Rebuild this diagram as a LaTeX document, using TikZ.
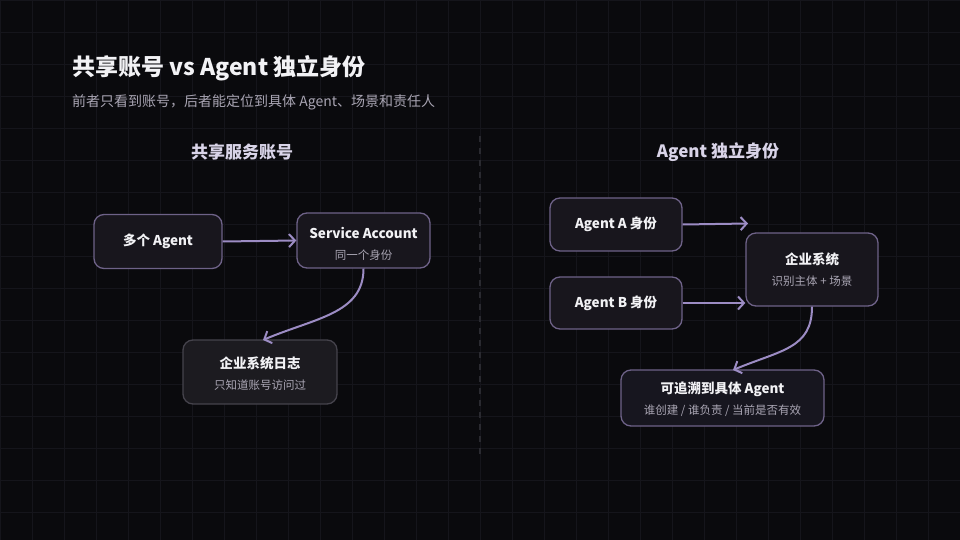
\documentclass[tikz,border=0pt]{standalone}
\usepackage{fontspec}
\setmainfont{Noto Sans CJK SC}
\usetikzlibrary{arrows.meta}
\definecolor{bgc}{HTML}{0A0A0D}
\definecolor{gridc}{HTML}{15151B}
\definecolor{boxfill}{HTML}{18161D}
\definecolor{trfill}{HTML}{17161F}
\definecolor{logfill}{HTML}{1C1B20}
\definecolor{purpborder}{HTML}{6E6288}
\definecolor{grayborder}{HTML}{45434C}
\definecolor{arrowc}{HTML}{9C8CC4}
\definecolor{titlec}{HTML}{F2F2F5}
\definecolor{subc}{HTML}{A9A5B3}
\definecolor{headc}{HTML}{D9D4E8}
\definecolor{divc}{HTML}{2A2A30}
\tikzset{
  box/.style={draw=purpborder, line width=1.3pt, fill=boxfill, rounded corners=10pt,
    align=center, text=titlec, inner sep=0pt},
  logbox/.style={box, draw=grayborder, fill=logfill},
  flow/.style={draw=arrowc, line width=2pt, -{Straight Barb[length=6pt,width=13pt,line width=2pt]}},
  btitle/.style={font=\bfseries\fontsize{13.5}{17}\selectfont},
  headtxt/.style={font=\bfseries\fontsize{17}{20}\selectfont, text=headc, inner sep=0pt},
}
\newcommand{\bsub}[1]{\\[4pt]{\mdseries\fontsize{11.5}{14}\selectfont\color{subc}#1}}
\newcommand{\tstrut}[1]{\rule{0pt}{#1}}
\begin{document}
\begin{tikzpicture}[x=1pt,y=-1pt]
\fill[bgc] (0,0) rectangle (960,540);
\useasboundingbox (0,0) rectangle (960,540);
\foreach \i in {0,32,...,960} \draw[gridc, line width=0.6pt] (\i,0) -- (\i,540);
\foreach \j in {0,32,...,540} \draw[gridc, line width=0.6pt] (0,\j) -- (960,\j);

\node[anchor=west, inner sep=0pt, text=titlec, font=\bfseries\fontsize{23}{26}\selectfont] (title) at (72,68) {共享账号 vs Agent 独立身份};
\node[anchor=west, inner sep=0pt, text=subc, font=\fontsize{14}{17}\selectfont] (subtitle) at (72,102) {前者只看到账号，后者能定位到具体 Agent、场景和责任人};

\draw[divc, line width=1.5pt, dash pattern=on 6pt off 6pt] (480,136) coordinate (d1) -- (480,454) coordinate (d2);

\node[headtxt] (h1) at (242,152) {共享服务账号};
\node[headtxt] (h2) at (718,152) {Agent 独立身份};

% left
\node[box, minimum width=128pt, minimum height=54pt, btitle] (ag) at (158,241.5) {多个 Agent};
\node[box, minimum width=133pt, minimum height=55pt, btitle] (sa) at (363.5,240.5) {\tstrut{18pt}Service Account\bsub{同一个身份}};
\node[logbox, minimum width=154pt, minimum height=64pt, btitle] (log) at (260,372) {\tstrut{15pt}企业系统日志\bsub{只知道账号访问过}};

\draw[flow] (ag.east) -- (sa.west);
\coordinate (login) at (263,340);
\draw[flow] (sa.south) .. controls +(0,45) and +(52,-22) .. (login);

% right
\node[box, minimum width=132pt, minimum height=53pt, btitle] (aa) at (616,224.5) {Agent A 身份};
\node[box, minimum width=132pt, minimum height=52pt, btitle] (ab) at (616,303) {Agent B 身份};
\node[box, minimum width=132pt, minimum height=73pt, btitle] (es) at (812,269.5) {企业系统\bsub{识别主体 + 场景}};
\node[box, minimum width=203pt, minimum height=56pt, btitle, fill=trfill] (tr) at (722.5,398) {\tstrut{14pt}可追溯到具体 Agent\bsub{谁创建 / 谁负责 / 当前是否有效}};

\coordinate (aend) at (748,223.5);
\draw[flow] (aa.east) -- (aend);
\draw[flow] (ab.east) -- (ab.east -| es.west);
\coordinate (trin) at (733,370);
\draw[flow] (es.south) .. controls +(0,42) and +(48,-20) .. (trin);
\end{tikzpicture}
\end{document}
